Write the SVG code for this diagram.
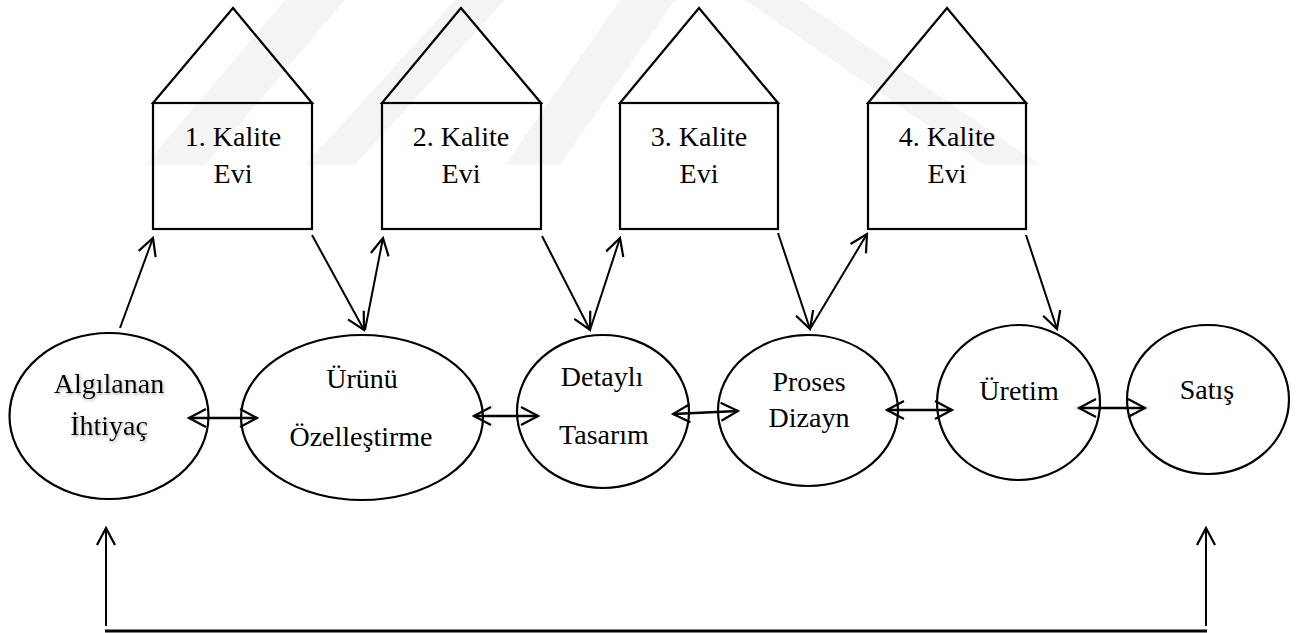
<svg xmlns="http://www.w3.org/2000/svg" width="1304" height="633" viewBox="0 0 1304 633">
  <style>
    .shape { fill: none; stroke: #000; stroke-width: 2.2; }
    .lbl { font-family: 'Liberation Serif', 'Times New Roman', serif; font-size: 28px; fill: #000; text-anchor: middle; }
    .conn { fill: none; stroke: #000; stroke-width: 2; marker-end: url(#head); }
    .conn2 { fill: none; stroke: #000; stroke-width: 2.4; marker-start: url(#head); marker-end: url(#head); }
    .wm { fill: #f4f4f4; }
  </style>
  <defs>
    <marker id="head" viewBox="-20 -11 22 22" refX="0" refY="0" markerWidth="22" markerHeight="22" markerUnits="userSpaceOnUse" orient="auto-start-reverse">
      <path d="M-17,-9 L0,0 L-17,9" fill="none" stroke="#000" stroke-width="2.2"/>
    </marker>
    <filter id="soft" x="-20%" y="-40%" width="140%" height="180%">
      <feDropShadow dx="1" dy="1.5" stdDeviation="1.5" flood-color="#777" flood-opacity="0.6"/>
    </filter>
  </defs>

  <rect width="1304" height="633" fill="#fff"/>

  <!-- faint background emblem -->
  <g id="emblem">
    <polygon class="wm" points="285,0 345,0 205,165 145,165"/>
    <polygon class="wm" points="455,0 505,0 355,165 305,165"/>
    <polygon class="wm" points="620,0 675,0 560,165 505,165"/>
    <polygon class="wm" points="745,0 800,0 1040,165 985,165"/>
  </g>

  <!-- quality houses -->
  <g id="house1">
    <polygon class="shape" points="153,103 233,8 312,103"/>
    <rect class="shape" x="153" y="103" width="159" height="126"/>
    <text class="lbl" x="233" y="146">1. Kalite</text>
    <text class="lbl" x="233" y="183">Evi</text>
  </g>
  <g id="house2">
    <polygon class="shape" points="382,103 461,8 541,103"/>
    <rect class="shape" x="382" y="103" width="159" height="126"/>
    <text class="lbl" x="461" y="146">2. Kalite</text>
    <text class="lbl" x="461" y="183">Evi</text>
  </g>
  <g id="house3">
    <polygon class="shape" points="620,103 699,8 778,103"/>
    <rect class="shape" x="620" y="103" width="158" height="126"/>
    <text class="lbl" x="699" y="146">3. Kalite</text>
    <text class="lbl" x="699" y="183">Evi</text>
  </g>
  <g id="house4">
    <polygon class="shape" points="868,103 947,8 1026,103"/>
    <rect class="shape" x="868" y="103" width="158" height="126"/>
    <text class="lbl" x="947" y="146">4. Kalite</text>
    <text class="lbl" x="947" y="183">Evi</text>
  </g>

  <!-- process stages -->
  <g id="need">
    <ellipse class="shape" cx="109" cy="416" rx="99.5" ry="83"/>
    <g filter="url(#soft)">
      <text class="lbl" x="109" y="393">Algılanan</text>
      <text class="lbl" x="109" y="435">İhtiyaç</text>
    </g>
  </g>
  <g id="spec">
    <ellipse class="shape" cx="362" cy="417.5" rx="121" ry="82.5"/>
    <text class="lbl" x="362" y="388">Ürünü</text>
    <text class="lbl" x="361" y="446">Özelleştirme</text>
  </g>
  <g id="detail">
    <ellipse class="shape" cx="603" cy="411.5" rx="86" ry="76.5"/>
    <text class="lbl" x="602" y="386">Detaylı</text>
    <text class="lbl" x="604" y="444">Tasarım</text>
  </g>
  <g id="process">
    <ellipse class="shape" cx="808" cy="410.5" rx="90" ry="75.5"/>
    <text class="lbl" x="809" y="391">Proses</text>
    <text class="lbl" x="809" y="427">Dizayn</text>
  </g>
  <g id="production">
    <ellipse class="shape" cx="1018.5" cy="402.5" rx="81.5" ry="77.5"/>
    <text class="lbl" x="1019" y="400">Üretim</text>
  </g>
  <g id="sales">
    <ellipse class="shape" cx="1208" cy="399.5" rx="81" ry="74.5"/>
    <text class="lbl" x="1207" y="399">Satış</text>
  </g>

  <!-- connectors -->
  <g id="connectors">
    <!-- stage to house links -->
    <line class="conn" x1="120" y1="328" x2="153" y2="238"/>
    <line class="conn" x1="312" y1="235" x2="364" y2="330"/>
    <line class="conn" x1="365" y1="330" x2="383" y2="238"/>
    <line class="conn" x1="542" y1="236" x2="590" y2="330"/>
    <line class="conn" x1="590" y1="330" x2="620" y2="238"/>
    <line class="conn" x1="778" y1="233" x2="810" y2="329"/>
    <line class="conn" x1="810" y1="329" x2="867" y2="234"/>
    <line class="conn" x1="1026" y1="235" x2="1057" y2="329"/>

    <!-- stage to stage links -->
    <line class="conn2" x1="189" y1="418" x2="257" y2="418"/>
    <line class="conn2" x1="474" y1="416" x2="538" y2="416"/>
    <line class="conn2" x1="673" y1="414" x2="738" y2="411"/>
    <line class="conn2" x1="887" y1="410" x2="952" y2="410"/>
    <line class="conn2" x1="1079" y1="408" x2="1145" y2="408"/>

    <!-- feedback loop -->
    <line class="conn" x1="106" y1="626" x2="106" y2="528"/>
    <line class="conn" x1="1206" y1="626" x2="1206" y2="528"/>
    <line x1="105" y1="631" x2="1207" y2="631" stroke="#000" stroke-width="3.2"/>
  </g>
</svg>
